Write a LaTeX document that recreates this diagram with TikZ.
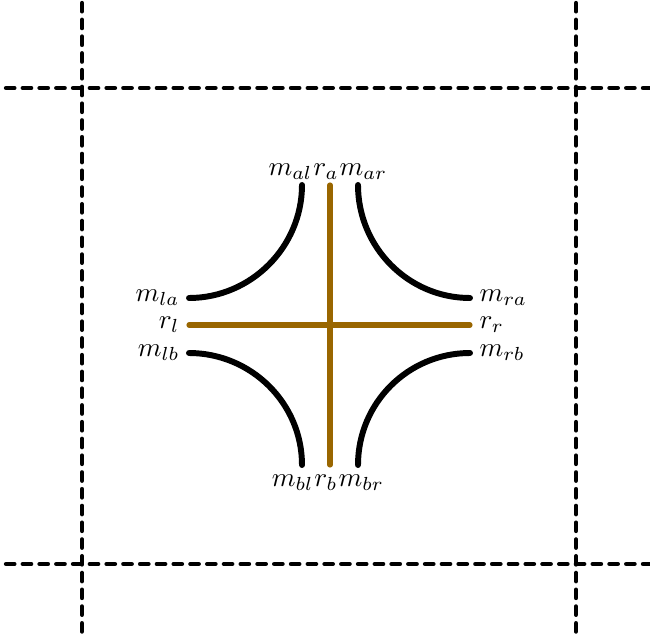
\documentclass[tikz,border=0pt]{standalone}
\definecolor{rod}{RGB}{153,102,0}
\begin{document}
\begin{tikzpicture}[x=0.013cm,y=-0.013cm,
  grid/.style={line width=1.6pt,dash pattern=on 3.1pt off 3.1pt,line cap=round},
  mem/.style={line width=2.2pt,line cap=round},
  rodline/.style={rod,line width=1.9pt,line cap=round},
  lbl/.style={inner sep=0pt}]
\useasboundingbox (0,0) rectangle (650,643);
% grid
\coordinate (v1t) at (82,3); \coordinate (v1b) at (82,636);
\coordinate (v2t) at (576,3); \coordinate (v2b) at (576,636);
\coordinate (h1l) at (6,88); \coordinate (h1r) at (652,88);
\coordinate (h2l) at (6,564); \coordinate (h2r) at (652,564);
\draw[grid] (v1t) -- (v1b);
\draw[grid] (v2t) -- (v2b);
\draw[grid] (h1l) -- (h1r);
\draw[grid] (h2l) -- (h2r);
% end points
\coordinate (la) at (189,298); \coordinate (lr) at (189,325); \coordinate (lb) at (189,353);
\coordinate (ra) at (470,298); \coordinate (rr) at (470,325); \coordinate (rb) at (470,353);
\coordinate (al) at (302,185); \coordinate (ar) at (330,185); \coordinate (am) at (358,185);
\coordinate (bl) at (302,465); \coordinate (br) at (330,465); \coordinate (bm) at (358,465);
% members
\draw[mem] (la) .. controls +(62,0) and +(0,62) .. (al);
\draw[mem] (am) .. controls +(0,62) and +(-62,0) .. (ra);
\draw[mem] (lb) .. controls +(62,0) and +(0,-62) .. (bl);
\draw[mem] (bm) .. controls +(0,-62) and +(-62,0) .. (rb);
% rods
\draw[rodline] (lr) -- (rr);
\draw[rodline] (ar) -- (br);
% labels left / right
\node[anchor=east] (tmla) at (la) {$m_{la}$};
\node[anchor=east] (trl) at (lr) {$r_l$};
\node[anchor=east] (tmlb) at (lb) {$m_{lb}$};
\node[anchor=west] (tmra) at (ra) {$m_{ra}$};
\node[anchor=west] (trr) at (rr) {$r_r$};
\node[anchor=west] (tmrb) at (rb) {$m_{rb}$};
% labels top
\node[lbl,anchor=base] (tra) at (326,175) {$r_a$};
\node[lbl,anchor=base east] (tmal) at (tra.base west) {$m_{al}$};
\node[lbl,anchor=base west] (tmar) at (tra.base east) {$m_{ar}$};
% labels bottom
\node[lbl,anchor=base] (trb) at (326,486) {$r_b$};
\node[lbl,anchor=base east] (tmbl) at (trb.base west) {$m_{bl}$};
\node[lbl,anchor=base west] (tmbr) at (trb.base east) {$m_{br}$};
\end{tikzpicture}
\end{document}
